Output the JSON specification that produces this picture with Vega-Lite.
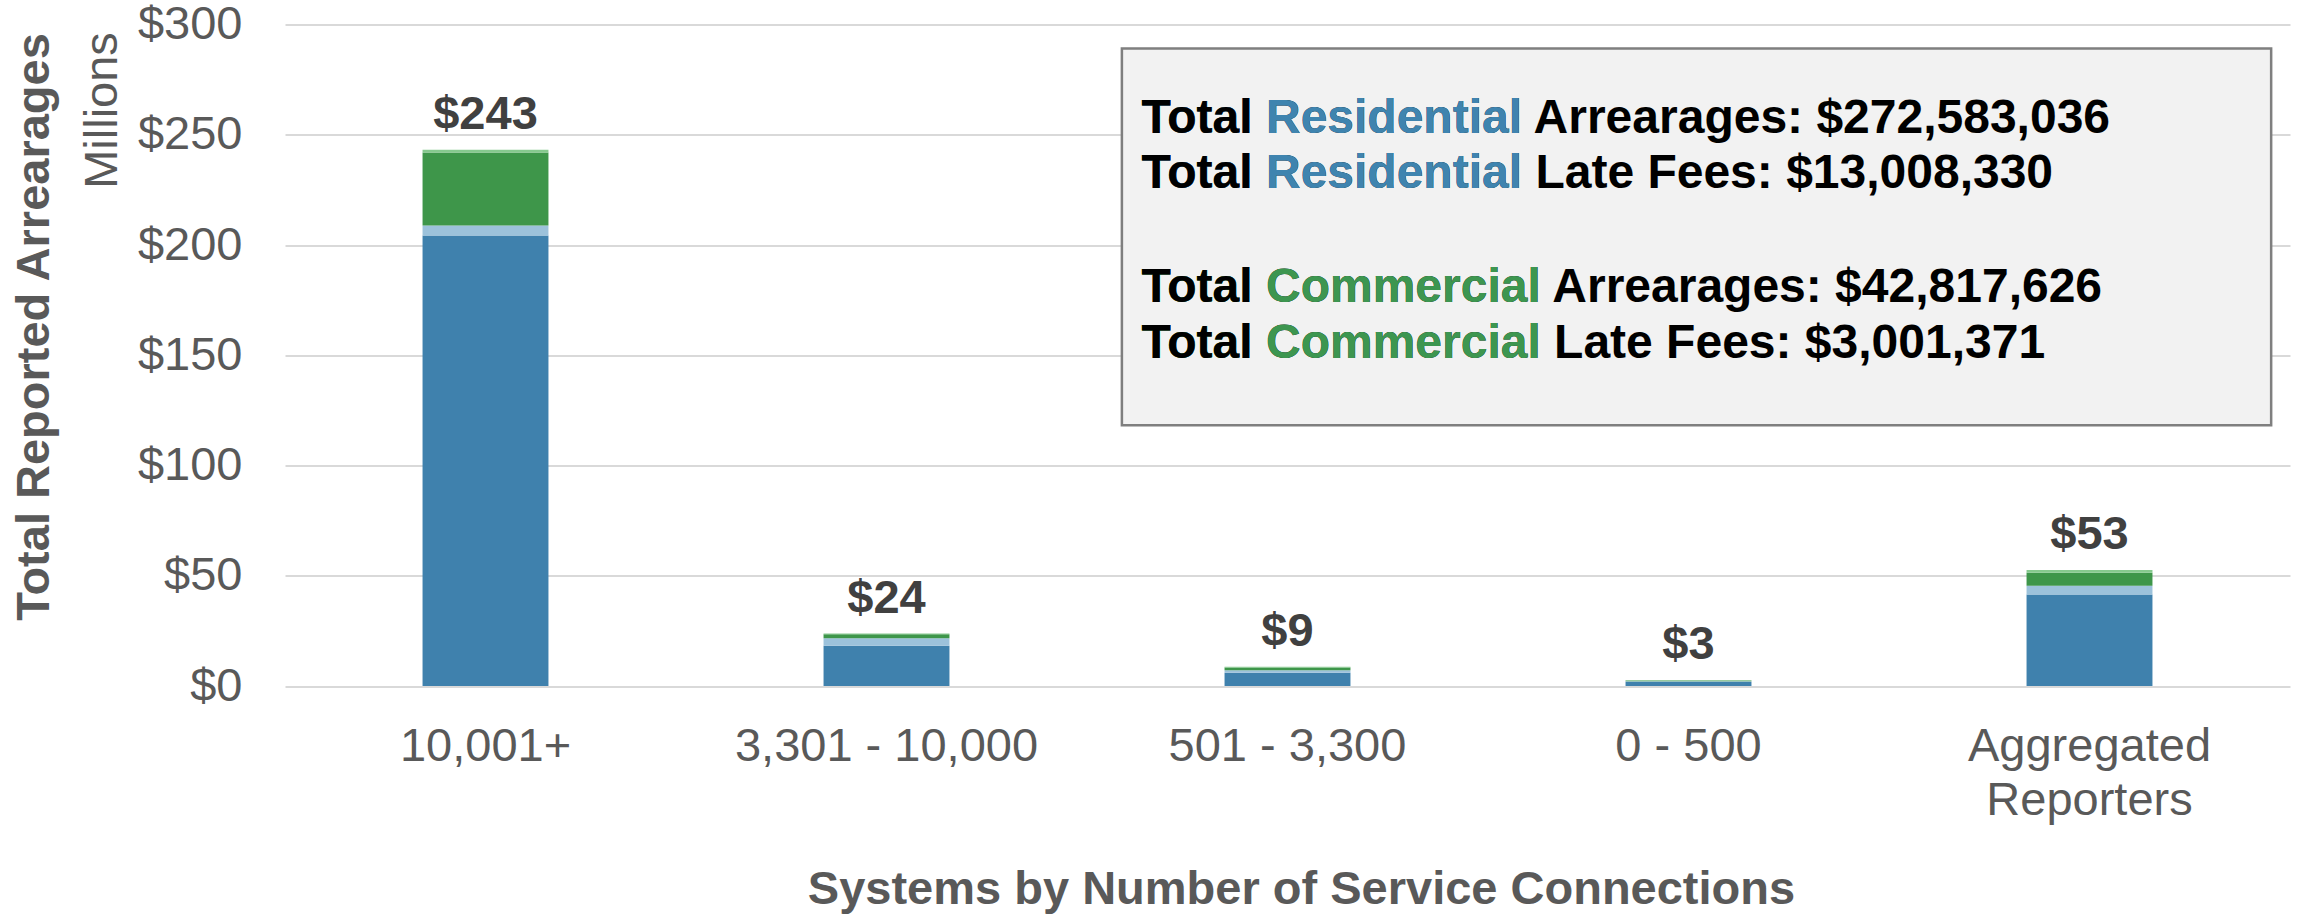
{
  "$schema": "https://vega.github.io/schema/vega-lite/v6.json",
  "autosize": "none",
  "width": 2005,
  "height": 661.5,
  "padding": {"left": 285, "top": 24.5, "right": 15, "bottom": 229},
  "background": "white",
  "config": {"font": "Liberation Sans", "view": {"stroke": null}},
  "datasets": {
    "bars": [
      {"group": "10,001+", "series": "Residential Arrearages", "k": 1, "value": 204.3},
      {"group": "10,001+", "series": "Residential Late Fees", "k": 2, "value": 4.5},
      {"group": "10,001+", "series": "Commercial Arrearages", "k": 3, "value": 33.2},
      {"group": "10,001+", "series": "Commercial Late Fees", "k": 4, "value": 1.2},
      {"group": "3,301 - 10,000", "series": "Residential Arrearages", "k": 1, "value": 18.3},
      {"group": "3,301 - 10,000", "series": "Residential Late Fees", "k": 2, "value": 3.3},
      {"group": "3,301 - 10,000", "series": "Commercial Arrearages", "k": 3, "value": 1.9},
      {"group": "3,301 - 10,000", "series": "Commercial Late Fees", "k": 4, "value": 0.3},
      {"group": "501 - 3,300", "series": "Residential Arrearages", "k": 1, "value": 6.0},
      {"group": "501 - 3,300", "series": "Residential Late Fees", "k": 2, "value": 1.1},
      {"group": "501 - 3,300", "series": "Commercial Arrearages", "k": 3, "value": 1.3},
      {"group": "501 - 3,300", "series": "Commercial Late Fees", "k": 4, "value": 0.3},
      {"group": "0 - 500", "series": "Residential Arrearages", "k": 1, "value": 1.9},
      {"group": "0 - 500", "series": "Residential Late Fees", "k": 2, "value": 0.3},
      {"group": "0 - 500", "series": "Commercial Arrearages", "k": 3, "value": 0.3},
      {"group": "0 - 500", "series": "Commercial Late Fees", "k": 4, "value": 0.1},
      {"group": "Aggregated Reporters", "series": "Residential Arrearages", "k": 1, "value": 41.5},
      {"group": "Aggregated Reporters", "series": "Residential Late Fees", "k": 2, "value": 4.0},
      {"group": "Aggregated Reporters", "series": "Commercial Arrearages", "k": 3, "value": 5.9},
      {"group": "Aggregated Reporters", "series": "Commercial Late Fees", "k": 4, "value": 1.2}
    ],
    "box": [{"x1": 2.087, "x2": 4.953, "y1": 289.1, "y2": 118.2}],
    "lines": [
      {"x": 2.136, "y": 250.9, "full": "Total Residential Arrearages: $272,583,036", "prefix": "Total Residential", "kind": "Residential"},
      {"x": 2.136, "y": 225.7, "full": "Total Residential Late Fees: $13,008,330", "prefix": "Total Residential", "kind": "Residential"},
      {"x": 2.136, "y": 174.1, "full": "Total Commercial Arrearages: $42,817,626", "prefix": "Total Commercial", "kind": "Commercial"},
      {"x": 2.136, "y": 148.8, "full": "Total Commercial Late Fees: $3,001,371", "prefix": "Total Commercial", "kind": "Commercial"}
    ]
  },
  "layer": [
    {
      "data": {"name": "bars"},
      "mark": {"type": "bar"},
      "encoding": {
        "x": {
          "field": "group", "type": "nominal",
          "sort": ["10,001+", "3,301 - 10,000", "501 - 3,300", "0 - 500", "Aggregated Reporters"],
          "scale": {"paddingInner": 0.686, "paddingOuter": 0.343},
          "axis": {
            "labelFontSize": 47, "labelColor": "#595959", "ticks": false, "domain": false,
            "labelPadding": 37, "labelAngle": 0, "labelLineHeight": 54, "labelLimit": 0,
            "labelExpr": "datum.value == 'Aggregated Reporters' ? ['Aggregated', 'Reporters'] : datum.value",
            "title": "Systems by Number of Service Connections", "titleLimit": 0,
            "titleFontSize": 47, "titleFontWeight": "bold", "titleColor": "#595959",
            "titleX": 1016, "titleY": 217, "titleBaseline": "alphabetic"
          }
        },
        "y": {
          "field": "value", "type": "quantitative", "stack": "zero",
          "scale": {"domain": [0, 300], "nice": false},
          "axis": {
            "values": [0, 50, 100, 150, 200, 250, 300], "format": "$.0f",
            "labelFontSize": 47, "labelColor": "#595959", "labelPadding": 43, "labelLimit": 0,
            "ticks": false, "domain": false, "grid": true, "gridColor": "#d9d9d9", "gridWidth": 2,
            "title": "Total Reported Arrearages", "titleFontSize": 47, "titleFontWeight": "bold", "titleLimit": 0,
            "titleColor": "#595959", "titleX": -251, "titleY": 302, "titleBaseline": "middle"
          }
        },
        "color": {
          "field": "series", "type": "nominal",
          "scale": {
            "domain": ["Residential Arrearages", "Residential Late Fees", "Commercial Arrearages", "Commercial Late Fees"],
            "range": ["#3F81AD", "#9CC2DB", "#3E964A", "#86C98E"]
          },
          "legend": null
        },
        "order": {"field": "k", "type": "quantitative", "sort": "ascending"}
      }
    },
    {
      "data": {"name": "bars"},
      "transform": [{"aggregate": [{"op": "sum", "field": "value", "as": "total"}], "groupby": ["group"]}],
      "mark": {"type": "text", "fontSize": 47, "fontWeight": "bold", "color": "#404040", "baseline": "alphabetic", "dy": -21},
      "encoding": {
        "x": {
          "field": "group", "type": "nominal",
          "sort": ["10,001+", "3,301 - 10,000", "501 - 3,300", "0 - 500", "Aggregated Reporters"],
          "scale": {"paddingInner": 0.686, "paddingOuter": 0.343},
          "axis": null
        },
        "y": {"field": "total", "type": "quantitative", "scale": {"domain": [0, 300], "nice": false}, "axis": null},
        "text": {"field": "total", "type": "quantitative", "format": "$.0f"}
      }
    },
    {
      "data": {"name": "box"},
      "mark": {"type": "rect", "fill": "#f2f2f2", "stroke": "#7f7f7f", "strokeWidth": 2.5},
      "encoding": {
        "x": {"field": "x1", "type": "quantitative", "scale": {"domain": [0, 5], "nice": false, "zero": false}, "axis": null},
        "x2": {"field": "x2"},
        "y": {
          "field": "y1", "type": "quantitative", "scale": {"domain": [0, 300], "nice": false},
          "axis": {
            "orient": "left", "labels": false, "ticks": false, "domain": false, "grid": false,
            "title": "Millions", "titleFontSize": 47, "titleFontWeight": "normal", "titleColor": "#595959",
            "titleX": -183, "titleY": 85.5, "titleBaseline": "middle"
          }
        },
        "y2": {"field": "y2"}
      }
    },
    {
      "data": {"name": "lines"},
      "mark": {"type": "text", "align": "left", "baseline": "alphabetic", "fontSize": 48, "fontWeight": "bold", "color": "#000000"},
      "encoding": {
        "x": {"field": "x", "type": "quantitative", "scale": {"domain": [0, 5], "nice": false, "zero": false}, "axis": null},
        "y": {"field": "y", "type": "quantitative", "scale": {"domain": [0, 300], "nice": false}, "axis": null},
        "text": {"field": "full"}
      }
    },
    {
      "data": {"name": "lines"},
      "mark": {"type": "text", "align": "left", "baseline": "alphabetic", "fontSize": 48, "fontWeight": "bold"},
      "encoding": {
        "x": {"field": "x", "type": "quantitative", "scale": {"domain": [0, 5], "nice": false, "zero": false}, "axis": null},
        "y": {"field": "y", "type": "quantitative", "scale": {"domain": [0, 300], "nice": false}, "axis": null},
        "text": {"field": "prefix"},
        "color": {"field": "kind", "type": "nominal", "scale": {"domain": ["Residential", "Commercial"], "range": ["#3F84AF", "#3D9650"]}, "legend": null}
      }
    },
    {
      "data": {"name": "lines"},
      "mark": {"type": "text", "align": "left", "baseline": "alphabetic", "fontSize": 48, "fontWeight": "bold", "color": "#000000"},
      "encoding": {
        "x": {"field": "x", "type": "quantitative", "scale": {"domain": [0, 5], "nice": false, "zero": false}, "axis": null},
        "y": {"field": "y", "type": "quantitative", "scale": {"domain": [0, 300], "nice": false}, "axis": null},
        "text": {"value": "Total"}
      }
    }
  ],
  "resolve": {"scale": {"x": "independent", "color": "independent"}, "axis": {"y": "independent"}}
}
